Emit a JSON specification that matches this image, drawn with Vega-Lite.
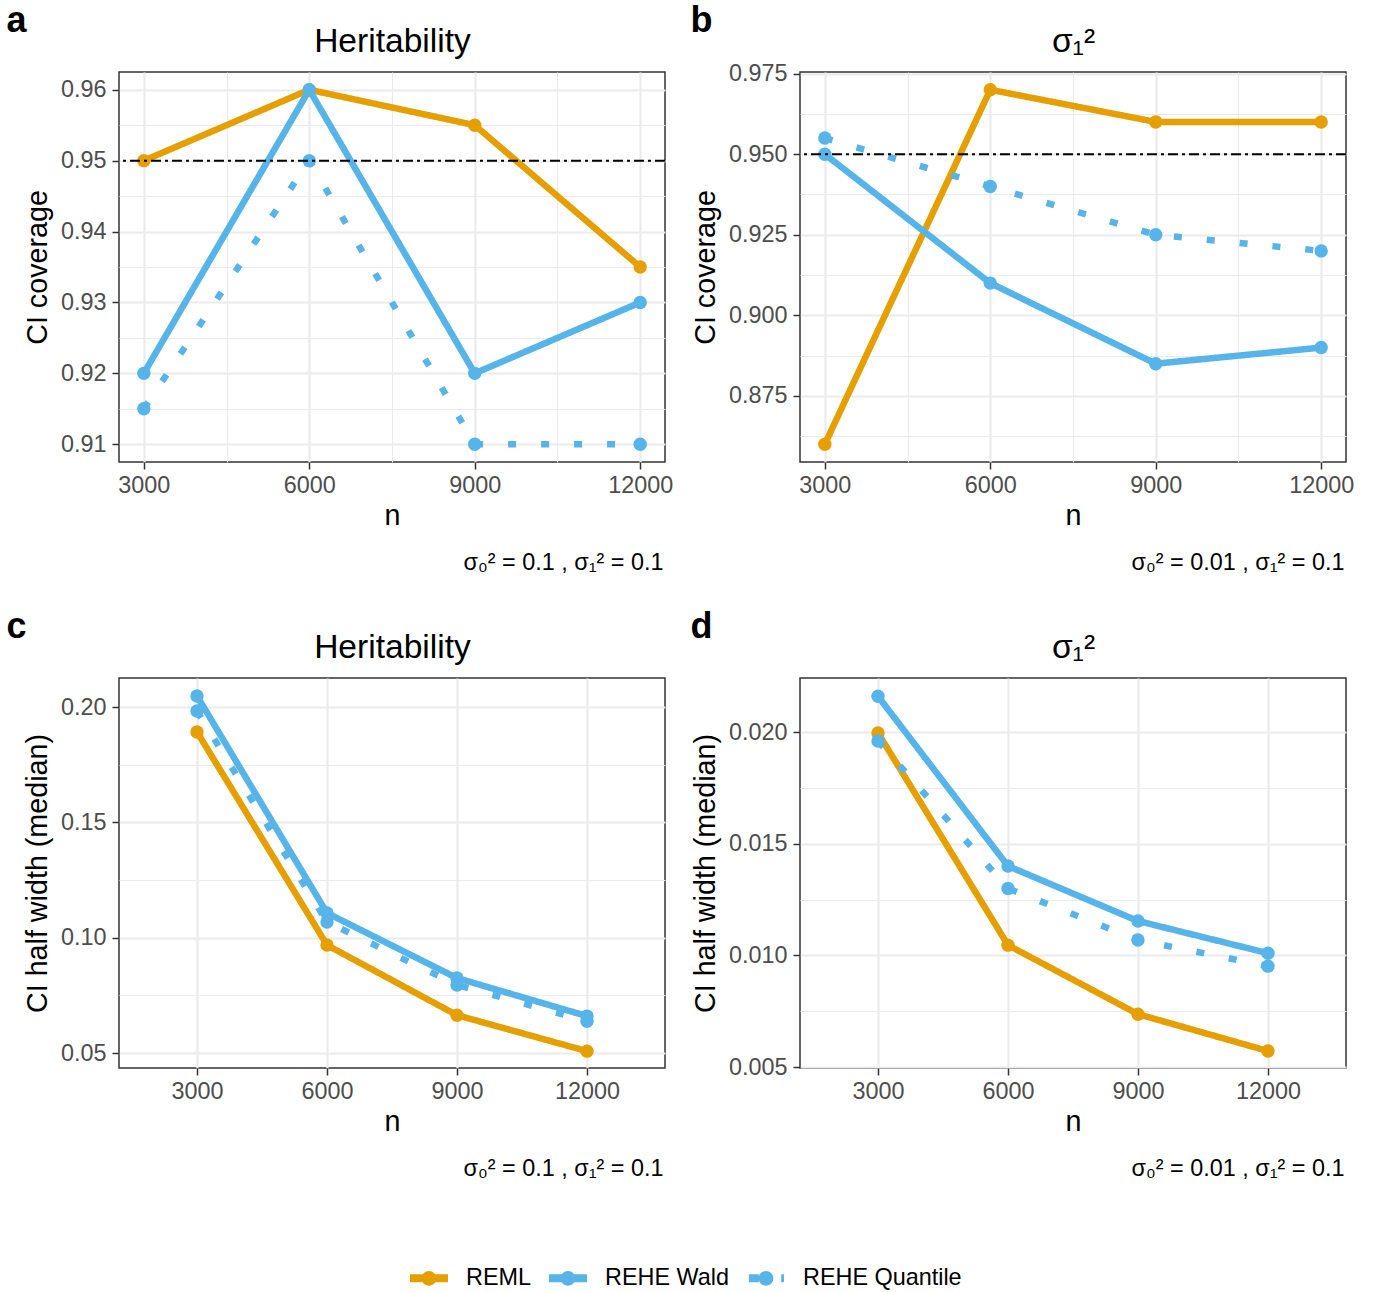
{
  "$schema": "https://vega.github.io/schema/vega-lite/v6.json",
  "background": "white",
  "padding": {"left": 5, "top": 2, "right": 20, "bottom": 0},
  "columns": 2,
  "bounds": "flush",
  "spacing": {"row": 216, "column": 135},
  "config": {
    "font": "Liberation Sans",
    "view": {"stroke": "#333333", "strokeWidth": 1.5},
    "axis": {
      "labelFont": "Liberation Sans", "titleFont": "Liberation Sans",
      "labelFontSize": 23.4, "labelColor": "#4D4D4D",
      "titleFontSize": 28.7, "titleColor": "black", "titleFontWeight": "normal",
      "tickColor": "#333333", "tickSize": 7, "tickWidth": 1.5,
      "domain": false, "gridColor": "#EBEBEB",
      "labelFlush": false, "labelOverlap": false
    },
    "title": {"fontSize": 36, "fontWeight": "bold", "color": "black", "anchor": "start", "frame": "bounds", "baseline": "alphabetic", "offset": -16},
    "legend": {
      "orient": "none", "legendX": 291, "legendY": 1187, "direction": "horizontal",
      "padding": 0, "symbolType": "circle", "symbolSize": 1444, "symbolStrokeWidth": 0, "symbolOpacity": 1,
      "labelFontSize": 23.4, "labelColor": "black", "labelFont": "Liberation Sans", "labelOffset": 18, "columnPadding": 18,
      "labelLimit": 400
    }
  },
  "concat": [
    {
      "width": 546, "height": 390,
      "title": {"text": "a", "dx": -17},
      "data": {"values": [
        {"n": 3000, "method": "REML", "value": 0.95},
        {"n": 6000, "method": "REML", "value": 0.96},
        {"n": 9000, "method": "REML", "value": 0.955},
        {"n": 12000, "method": "REML", "value": 0.935},
        {"n": 3000, "method": "REHE Wald", "value": 0.92},
        {"n": 6000, "method": "REHE Wald", "value": 0.96},
        {"n": 9000, "method": "REHE Wald", "value": 0.92},
        {"n": 12000, "method": "REHE Wald", "value": 0.93},
        {"n": 3000, "method": "REHE Quantile", "value": 0.915},
        {"n": 6000, "method": "REHE Quantile", "value": 0.95},
        {"n": 9000, "method": "REHE Quantile", "value": 0.91},
        {"n": 12000, "method": "REHE Quantile", "value": 0.91}
      ]},
      "layer": [
        {
          "mark": {"type": "line", "strokeWidth": 6.5, "strokeJoin": "round", "strokeCap": "butt"},
          "encoding": {
            "x": {"field": "n", "type": "quantitative", "scale": {"domain": [2550, 12450], "nice": false, "zero": false},
              "axis": {"orient": "bottom", "title": "n", "format": "d", "values": [3000, 4500, 6000, 7500, 9000, 10500, 12000],
                "labelExpr": "datum.value % 3000 === 0 ? datum.label : ''",
                "tickOpacity": {"condition": {"test": "datum.value % 3000 !== 0", "value": 0}, "value": 1},
                "gridWidth": {"condition": {"test": "datum.value % 3000 !== 0", "value": 1}, "value": 2.2},
                "labelPadding": 5, "titlePadding": 5}},
            "y": {"field": "value", "type": "quantitative", "scale": {"domain": [0.9075, 0.9625], "nice": false, "zero": false},
              "axis": {"orient": "left", "title": "CI coverage", "format": ".2f",
                "values": [0.91, 0.915, 0.92, 0.925, 0.93, 0.935, 0.94, 0.945, 0.95, 0.955, 0.96],
                "labelExpr": "round(datum.value * 1000) % 10 === 0 ? datum.label : ''",
                "tickOpacity": {"condition": {"test": "round(datum.value * 1000) % 10 !== 0", "value": 0}, "value": 1},
                "gridWidth": {"condition": {"test": "round(datum.value * 1000) % 10 !== 0", "value": 1}, "value": 2.2},
                "labelPadding": 6, "titlePadding": 8}},
            "color": {"field": "method", "type": "nominal", "scale": {"domain": ["REML", "REHE Wald", "REHE Quantile"], "range": ["#E69F00", "#56B4E9", "#56B4E9"]},
              "legend": {"title": null, "encode": {"symbols": {"update": {
                "shape": {"signal": "datum.label === 'REHE Quantile' ? 'M-0.9,-0.21H-0.38V0.21H-0.9Z M0.39,0A0.39,0.39,0,1,1,-0.39,0A0.39,0.39,0,1,1,0.39,0Z M0.8,-0.21H0.95V0.21H0.8Z' : 'M-1,-0.21H1V0.21H-1Z M0.39,0A0.39,0.39,0,1,1,-0.39,0A0.39,0.39,0,1,1,0.39,0Z'"},
                "fill": {"signal": "datum.label === 'REML' ? '#E69F00' : '#56B4E9'"},
                "fillOpacity": {"value": 1}, "strokeWidth": {"value": 0}}}}}},
            "strokeDash": {"field": "method", "type": "nominal", "scale": {"domain": ["REML", "REHE Wald", "REHE Quantile"], "range": [[1, 0], [1, 0], [8, 25]]}, "legend": null}
          }
        },
        {
          "mark": {"type": "point", "filled": true, "size": 180, "opacity": 1},
          "encoding": {
            "x": {"field": "n", "type": "quantitative", "scale": {"domain": [2550, 12450], "nice": false, "zero": false},
              "axis": {"orient": "top", "title": "Heritability", "labels": false, "ticks": false, "grid": false, "domain": false,
                "titleFontSize": 33.6, "titlePadding": 21, "titleBaseline": "alphabetic"}},
            "y": {"field": "value", "type": "quantitative", "scale": {"domain": [0.9075, 0.9625], "nice": false, "zero": false},
              "axis": {"orient": "right", "title": "σ₀² = 0.1 , σ₁² = 0.1", "labels": false, "ticks": false, "grid": false, "domain": false,
                "titleAngle": 0, "titleX": -2, "titleY": 490, "titleAlign": "right", "titleBaseline": "middle", "titleFontSize": 23.4}},
            "color": {"field": "method", "type": "nominal", "scale": {"domain": ["REML", "REHE Wald", "REHE Quantile"], "range": ["#E69F00", "#56B4E9", "#56B4E9"]}, "legend": {"title": null}}
          }
        },
        {
          "data": {"values": [{"ref": 0.95}]},
          "mark": {"type": "rule", "color": "black", "strokeWidth": 2, "strokeDash": [10, 4, 3, 4]},
          "encoding": {"y": {"field": "ref", "type": "quantitative", "scale": {"domain": [0.9075, 0.9625], "nice": false, "zero": false}, "axis": null}}
        }
      ],
      "resolve": {"axis": {"x": "independent", "y": "independent"}}
    },
    {
      "width": 546, "height": 390,
      "title": {"text": "b", "dx": -1},
      "data": {"values": [
        {"n": 3000, "method": "REML", "value": 0.86},
        {"n": 6000, "method": "REML", "value": 0.97},
        {"n": 9000, "method": "REML", "value": 0.96},
        {"n": 12000, "method": "REML", "value": 0.96},
        {"n": 3000, "method": "REHE Wald", "value": 0.95},
        {"n": 6000, "method": "REHE Wald", "value": 0.91},
        {"n": 9000, "method": "REHE Wald", "value": 0.885},
        {"n": 12000, "method": "REHE Wald", "value": 0.89},
        {"n": 3000, "method": "REHE Quantile", "value": 0.955},
        {"n": 6000, "method": "REHE Quantile", "value": 0.94},
        {"n": 9000, "method": "REHE Quantile", "value": 0.925},
        {"n": 12000, "method": "REHE Quantile", "value": 0.92}
      ]},
      "layer": [
        {
          "mark": {"type": "line", "strokeWidth": 6.5, "strokeJoin": "round", "strokeCap": "butt"},
          "encoding": {
            "x": {"field": "n", "type": "quantitative", "scale": {"domain": [2550, 12450], "nice": false, "zero": false},
              "axis": {"orient": "bottom", "title": "n", "format": "d", "values": [3000, 4500, 6000, 7500, 9000, 10500, 12000],
                "labelExpr": "datum.value % 3000 === 0 ? datum.label : ''",
                "tickOpacity": {"condition": {"test": "datum.value % 3000 !== 0", "value": 0}, "value": 1},
                "gridWidth": {"condition": {"test": "datum.value % 3000 !== 0", "value": 1}, "value": 2.2},
                "labelPadding": 5, "titlePadding": 5}},
            "y": {"field": "value", "type": "quantitative", "scale": {"domain": [0.8545, 0.9755], "nice": false, "zero": false},
              "axis": {"orient": "left", "title": "CI coverage", "format": ".3f",
                "values": [0.8625, 0.875, 0.8875, 0.9, 0.9125, 0.925, 0.9375, 0.95, 0.9625, 0.975],
                "labelExpr": "round(datum.value * 10000) % 250 === 0 ? datum.label : ''",
                "tickOpacity": {"condition": {"test": "round(datum.value * 10000) % 250 !== 0", "value": 0}, "value": 1},
                "gridWidth": {"condition": {"test": "round(datum.value * 10000) % 250 !== 0", "value": 1}, "value": 2.2},
                "labelPadding": 6, "titlePadding": 8}},
            "color": {"field": "method", "type": "nominal", "scale": {"domain": ["REML", "REHE Wald", "REHE Quantile"], "range": ["#E69F00", "#56B4E9", "#56B4E9"]}, "legend": {"title": null}},
            "strokeDash": {"field": "method", "type": "nominal", "scale": {"domain": ["REML", "REHE Wald", "REHE Quantile"], "range": [[1, 0], [1, 0], [8, 25]]}, "legend": null}
          }
        },
        {
          "mark": {"type": "point", "filled": true, "size": 180, "opacity": 1},
          "encoding": {
            "x": {"field": "n", "type": "quantitative", "scale": {"domain": [2550, 12450], "nice": false, "zero": false},
              "axis": {"orient": "top", "title": "σ₁²", "labels": false, "ticks": false, "grid": false, "domain": false,
                "titleFontSize": 33.6, "titlePadding": 21, "titleBaseline": "alphabetic"}},
            "y": {"field": "value", "type": "quantitative", "scale": {"domain": [0.8545, 0.9755], "nice": false, "zero": false},
              "axis": {"orient": "right", "title": "σ₀² = 0.01 , σ₁² = 0.1", "labels": false, "ticks": false, "grid": false, "domain": false,
                "titleAngle": 0, "titleX": -2, "titleY": 490, "titleAlign": "right", "titleBaseline": "middle", "titleFontSize": 23.4}},
            "color": {"field": "method", "type": "nominal", "scale": {"domain": ["REML", "REHE Wald", "REHE Quantile"], "range": ["#E69F00", "#56B4E9", "#56B4E9"]}, "legend": {"title": null}}
          }
        },
        {
          "data": {"values": [{"ref": 0.95}]},
          "mark": {"type": "rule", "color": "black", "strokeWidth": 2, "strokeDash": [10, 4, 3, 4]},
          "encoding": {"y": {"field": "ref", "type": "quantitative", "scale": {"domain": [0.8545, 0.9755], "nice": false, "zero": false}, "axis": null}}
        }
      ],
      "resolve": {"axis": {"x": "independent", "y": "independent"}}
    },
    {
      "width": 546, "height": 390,
      "title": {"text": "c", "dx": -17},
      "data": {"values": [
        {"n": 3000, "method": "REML", "value": 0.1892},
        {"n": 6000, "method": "REML", "value": 0.0968},
        {"n": 9000, "method": "REML", "value": 0.0664},
        {"n": 12000, "method": "REML", "value": 0.0508},
        {"n": 3000, "method": "REHE Wald", "value": 0.2048},
        {"n": 6000, "method": "REHE Wald", "value": 0.1107},
        {"n": 9000, "method": "REHE Wald", "value": 0.0825},
        {"n": 12000, "method": "REHE Wald", "value": 0.066},
        {"n": 3000, "method": "REHE Quantile", "value": 0.1983},
        {"n": 6000, "method": "REHE Quantile", "value": 0.1068},
        {"n": 9000, "method": "REHE Quantile", "value": 0.0795},
        {"n": 12000, "method": "REHE Quantile", "value": 0.0638}
      ]},
      "layer": [
        {
          "mark": {"type": "line", "strokeWidth": 6.5, "strokeJoin": "round", "strokeCap": "butt"},
          "encoding": {
            "x": {"field": "n", "type": "quantitative", "scale": {"domain": [1200, 13800], "nice": false, "zero": false},
              "axis": {"orient": "bottom", "title": "n", "format": "d", "values": [3000, 6000, 9000, 12000],
                "gridWidth": 2.2, "labelPadding": 5, "titlePadding": 5}},
            "y": {"field": "value", "type": "quantitative", "scale": {"domain": [0.0435, 0.2126], "nice": false, "zero": false},
              "axis": {"orient": "left", "title": "CI half width (median)", "format": ".2f",
                "values": [0.05, 0.075, 0.1, 0.125, 0.15, 0.175, 0.2],
                "labelExpr": "round(datum.value * 1000) % 50 === 0 ? datum.label : ''",
                "tickOpacity": {"condition": {"test": "round(datum.value * 1000) % 50 !== 0", "value": 0}, "value": 1},
                "gridWidth": {"condition": {"test": "round(datum.value * 1000) % 50 !== 0", "value": 1}, "value": 2.2},
                "labelPadding": 6, "titlePadding": 8}},
            "color": {"field": "method", "type": "nominal", "scale": {"domain": ["REML", "REHE Wald", "REHE Quantile"], "range": ["#E69F00", "#56B4E9", "#56B4E9"]}, "legend": {"title": null}},
            "strokeDash": {"field": "method", "type": "nominal", "scale": {"domain": ["REML", "REHE Wald", "REHE Quantile"], "range": [[1, 0], [1, 0], [8, 25]]}, "legend": null}
          }
        },
        {
          "mark": {"type": "point", "filled": true, "size": 180, "opacity": 1},
          "encoding": {
            "x": {"field": "n", "type": "quantitative", "scale": {"domain": [1200, 13800], "nice": false, "zero": false},
              "axis": {"orient": "top", "title": "Heritability", "labels": false, "ticks": false, "grid": false, "domain": false,
                "titleFontSize": 33.6, "titlePadding": 21, "titleBaseline": "alphabetic"}},
            "y": {"field": "value", "type": "quantitative", "scale": {"domain": [0.0435, 0.2126], "nice": false, "zero": false},
              "axis": {"orient": "right", "title": "σ₀² = 0.1 , σ₁² = 0.1", "labels": false, "ticks": false, "grid": false, "domain": false,
                "titleAngle": 0, "titleX": -2, "titleY": 490, "titleAlign": "right", "titleBaseline": "middle", "titleFontSize": 23.4}},
            "color": {"field": "method", "type": "nominal", "scale": {"domain": ["REML", "REHE Wald", "REHE Quantile"], "range": ["#E69F00", "#56B4E9", "#56B4E9"]}, "legend": {"title": null}}
          }
        }
      ],
      "resolve": {"axis": {"x": "independent", "y": "independent"}}
    },
    {
      "width": 546, "height": 390,
      "title": {"text": "d", "dx": -1},
      "data": {"values": [
        {"n": 3000, "method": "REML", "value": 0.01996},
        {"n": 6000, "method": "REML", "value": 0.01046},
        {"n": 9000, "method": "REML", "value": 0.00737},
        {"n": 12000, "method": "REML", "value": 0.00572},
        {"n": 3000, "method": "REHE Wald", "value": 0.0216},
        {"n": 6000, "method": "REHE Wald", "value": 0.014},
        {"n": 9000, "method": "REHE Wald", "value": 0.01154},
        {"n": 12000, "method": "REHE Wald", "value": 0.0101},
        {"n": 3000, "method": "REHE Quantile", "value": 0.0196},
        {"n": 6000, "method": "REHE Quantile", "value": 0.013},
        {"n": 9000, "method": "REHE Quantile", "value": 0.01069},
        {"n": 12000, "method": "REHE Quantile", "value": 0.00952}
      ]},
      "layer": [
        {
          "mark": {"type": "line", "strokeWidth": 6.5, "strokeJoin": "round", "strokeCap": "butt"},
          "encoding": {
            "x": {"field": "n", "type": "quantitative", "scale": {"domain": [1200, 13800], "nice": false, "zero": false},
              "axis": {"orient": "bottom", "title": "n", "format": "d", "values": [3000, 6000, 9000, 12000],
                "gridWidth": 2.2, "labelPadding": 5, "titlePadding": 5}},
            "y": {"field": "value", "type": "quantitative", "scale": {"domain": [0.00496, 0.02242], "nice": false, "zero": false},
              "axis": {"orient": "left", "title": "CI half width (median)", "format": ".3f",
                "values": [0.005, 0.0075, 0.01, 0.0125, 0.015, 0.0175, 0.02],
                "labelExpr": "round(datum.value * 10000) % 50 === 0 ? datum.label : ''",
                "tickOpacity": {"condition": {"test": "round(datum.value * 10000) % 50 !== 0", "value": 0}, "value": 1},
                "gridWidth": {"condition": {"test": "round(datum.value * 10000) % 50 !== 0", "value": 1}, "value": 2.2},
                "labelPadding": 6, "titlePadding": 8}},
            "color": {"field": "method", "type": "nominal", "scale": {"domain": ["REML", "REHE Wald", "REHE Quantile"], "range": ["#E69F00", "#56B4E9", "#56B4E9"]}, "legend": {"title": null}},
            "strokeDash": {"field": "method", "type": "nominal", "scale": {"domain": ["REML", "REHE Wald", "REHE Quantile"], "range": [[1, 0], [1, 0], [8, 25]]}, "legend": null}
          }
        },
        {
          "mark": {"type": "point", "filled": true, "size": 180, "opacity": 1},
          "encoding": {
            "x": {"field": "n", "type": "quantitative", "scale": {"domain": [1200, 13800], "nice": false, "zero": false},
              "axis": {"orient": "top", "title": "σ₁²", "labels": false, "ticks": false, "grid": false, "domain": false,
                "titleFontSize": 33.6, "titlePadding": 21, "titleBaseline": "alphabetic"}},
            "y": {"field": "value", "type": "quantitative", "scale": {"domain": [0.00496, 0.02242], "nice": false, "zero": false},
              "axis": {"orient": "right", "title": "σ₀² = 0.01 , σ₁² = 0.1", "labels": false, "ticks": false, "grid": false, "domain": false,
                "titleAngle": 0, "titleX": -2, "titleY": 490, "titleAlign": "right", "titleBaseline": "middle", "titleFontSize": 23.4}},
            "color": {"field": "method", "type": "nominal", "scale": {"domain": ["REML", "REHE Wald", "REHE Quantile"], "range": ["#E69F00", "#56B4E9", "#56B4E9"]}, "legend": {"title": null}}
          }
        }
      ],
      "resolve": {"axis": {"x": "independent", "y": "independent"}}
    }
  ]
}
